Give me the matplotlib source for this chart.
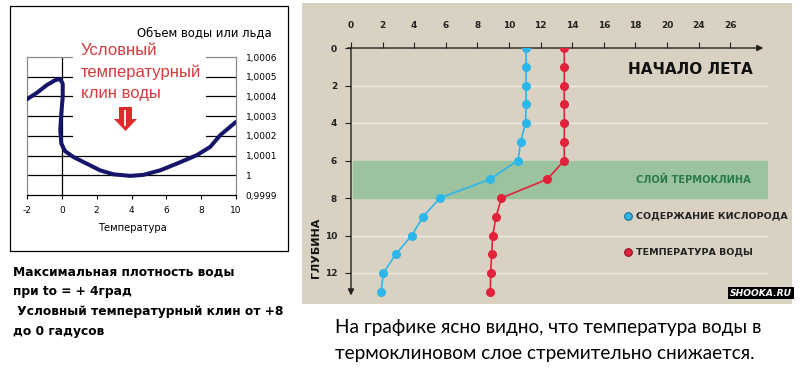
import matplotlib
matplotlib.use('Agg')
import matplotlib.pyplot as plt
from matplotlib.patches import Rectangle, Polygon
from matplotlib.lines import Line2D

W, H = 804, 388

# left chart: volume of water vs temperature (hand-drawn curve)
temp = [-2.0, -1.44, -0.87, -0.39, -0.10, 0.05, 0.05, -0.03, -0.09, -0.03, 0.18, 0.66,
        1.43, 2.2, 2.96, 3.92, 4.68, 5.64, 6.6, 7.75, 8.52, 9.09, 10.0]
volume = [1.000386, 1.000418, 1.000457, 1.000482, 1.000489, 1.000465, 1.000397, 1.000313,
          1.000228, 1.000161, 1.000123, 1.000093, 1.000059, 1.000025, 1.000005, 0.999997,
          1.000002, 1.000025, 1.000059, 1.000102, 1.000144, 1.000203, 1.000271]
vol_ticks = [0.9999, 1.0, 1.0001, 1.0002, 1.0003, 1.0004, 1.0005, 1.0006]
vol_labels = ['0,9999', '1', '1,0001', '1,0002', '1,0003', '1,0004', '1,0005', '1,0006']
temp_ticks = [-2, 0, 2, 4, 6, 8, 10]

# right chart: profiles at start of summer
depth = [0, 1, 2, 3, 4, 5, 6, 7, 8, 9, 10, 11, 12, 13]
oxygen = [11.08, 11.08, 11.08, 11.08, 11.05, 10.74, 10.57, 8.80, 5.63, 4.56, 3.84, 2.83, 2.05, 1.90]
water_temp = [13.5, 13.5, 13.5, 13.5, 13.5, 13.5, 13.5, 12.42, 9.52, 9.18, 8.97, 8.90, 8.84, 8.82]
x_tick_pos = [0, 2, 4, 6, 8, 10, 12, 14, 16, 18, 20, 22, 24]
x_tick_labels = ['0', '2', '4', '6', '8', '10', '12', '14', '16', '18', '20', '24', '26']
depth_ticks = [0, 2, 4, 6, 8, 10, 12]


def fx(x):
    return x / W


def fy(y):
    return 1 - y / H


fig = plt.figure(figsize=(W / 100, H / 100), dpi=100)
fig.patch.set_facecolor('white')

# background / decoration layer in pixel coordinates
bg = fig.add_axes([0, 0, 1, 1])
bg.set_xlim(0, W)
bg.set_ylim(H, 0)
bg.axis('off')
bg.add_patch(Rectangle((302, 3), 490, 301, facecolor='#d9d2c3', edgecolor='none'))
bg.add_patch(Rectangle((10, 6), 278, 245, facecolor='none', edgecolor='black', lw=0.9))

# ---------------- left chart ----------------
ax1 = fig.add_axes([fx(27), fy(195), 209 / W, 138 / H])
ax1.set_xlim(-2, 10)
ax1.set_ylim(0.9999, 1.0006)
ax1.set_facecolor('white')
for v in vol_ticks[1:-1]:
    ax1.axhline(v, color='black', lw=0.9, zorder=1)
ax1.axvline(0, color='black', lw=0.9, zorder=1)
for s in ['left', 'top', 'right']:
    ax1.spines[s].set_color('#8a8a8a')
    ax1.spines[s].set_linewidth(0.9)
ax1.spines['bottom'].set_color('black')
ax1.spines['bottom'].set_linewidth(0.9)
ax1.set_xticks(temp_ticks)
ax1.set_xticklabels([str(t) for t in temp_ticks], fontsize=6.5)
ax1.tick_params(axis='x', length=3, width=0.8, pad=5)
ax1.yaxis.tick_right()
ax1.set_yticks(vol_ticks)
ax1.set_yticklabels(vol_labels, fontsize=6.5)
ax1.tick_params(axis='y', length=0, pad=7)

# white box behind the red caption
ax1.add_patch(Rectangle((0.64, 1.000152), 7.65, 0.00056, facecolor='white',
                        edgecolor='none', zorder=3, clip_on=False))
ax1.plot(temp, volume, color='#15156a', lw=2.9, solid_capstyle='round',
         solid_joinstyle='round', zorder=4)

fig.text(fx(204), fy(33), 'Объем воды или льда', fontsize=8.4, ha='center', va='center')
fig.text(fx(132), fy(228), 'Температура', fontsize=7.2, ha='center', va='center')
fig.text(fx(81), fy(72), 'Условный\nтемпературный\nклин воды', fontsize=12,
         family='Liberation Sans', color='#d63a3c', ha='left', va='center', linespacing=1.55)

# red block arrow (figure level so it sits above the left chart)
arrow_px = [(119, 107), (132, 107), (132, 119), (137, 119), (125.5, 131), (114, 119), (119, 119)]
fig.add_artist(Polygon([(fx(x), fy(y)) for x, y in arrow_px], closed=True,
                       transform=fig.transFigure, facecolor='#e02a2a', edgecolor='none',
                       zorder=5))
fig.add_artist(Line2D([fx(125.5), fx(125.5)], [fy(111), fy(125)], transform=fig.transFigure,
                      color='white', lw=1.3, zorder=6))

# bottom-left caption
left_lines = ['Максимальная плотность воды', 'при to = + 4град',
              ' Условный температурный клин от +8', 'до 0 гадусов']
for i, line in enumerate(left_lines):
    fig.text(fx(13), fy(272 + i * 20), line, fontsize=8.8, fontweight='bold',
             ha='left', va='center')

# ---------------- right chart ----------------
ax2 = fig.add_axes([fx(351), fy(298), (768 - 351) / W, 250 / H])
ax2.set_facecolor('none')
ax2.set_xlim(0, 417 / 15.8)
ax2.set_ylim(250 / 18.75, 0)
for s in ax2.spines.values():
    s.set_visible(False)

ax2.axhspan(6, 8, xmin=0.005, xmax=1, color='#9bc3a0', zorder=0)
for d in [2, 4, 10, 12]:
    ax2.axhline(d, color='white', alpha=0.55, lw=1, zorder=0.5)

ax2.annotate('', xy=(26.1, 0), xytext=(-0.2, 0), annotation_clip=False,
             arrowprops=dict(arrowstyle='-|>', color='#222222', lw=1, mutation_scale=9,
                             shrinkA=0, shrinkB=0))
ax2.annotate('', xy=(0, 13.2), xytext=(0, 0), annotation_clip=False,
             arrowprops=dict(arrowstyle='-|>', color='#222222', lw=1, mutation_scale=9,
                             shrinkA=0, shrinkB=0))

ax2.plot(oxygen, depth, color='#2db6e9', marker='o', ms=5.5, lw=1.2, zorder=3)
ax2.plot(water_temp, depth, color='#e3213b', marker='o', ms=5.5, lw=1.2, zorder=3)

ax2.xaxis.set_ticks_position('top')
ax2.set_xticks(x_tick_pos)
ax2.set_xticklabels(x_tick_labels, fontsize=6.5, fontweight='bold', color='#222222')
ax2.tick_params(axis='x', top=True, bottom=False, labeltop=True, labelbottom=False,
                length=4, width=0.8, pad=9, color='#222222')
ax2.set_yticks(depth_ticks)
ax2.set_yticklabels([str(d) for d in depth_ticks], fontsize=6.5, fontweight='bold',
                    color='#222222')
ax2.tick_params(axis='y', length=4, width=0.8, pad=6, color='#222222')

fig.text(fx(690), fy(70), 'НАЧАЛО ЛЕТА', fontsize=11, fontweight='heavy',
         ha='center', va='center', color='#111111')
fig.text(fx(693), fy(180), 'СЛОЙ ТЕРМОКЛИНА', fontsize=7.1, fontweight='bold',
         ha='center', va='center', color='#2a7b48')
fig.text(fx(316), fy(248), 'ГЛУБИНА', fontsize=8, fontweight='bold', rotation=90,
         ha='center', va='center', color='#111111')

bg.plot([628], [216], marker='o', ms=5.5, color='#2db6e9', mec='#1a6f96', mew=0.8)
bg.plot([628], [252], marker='o', ms=5.5, color='#e3213b', mec='#8a1020', mew=0.8)
fig.text(fx(636), fy(216), 'СОДЕРЖАНИЕ КИСЛОРОДА', fontsize=6.8, fontweight='bold',
         ha='left', va='center', color='#222222')
fig.text(fx(636), fy(252), 'ТЕМПЕРАТУРА ВОДЫ', fontsize=6.8, fontweight='bold',
         ha='left', va='center', color='#222222')

fig.text(fx(761), fy(293), 'SHOOKA.RU', fontsize=6.6, fontweight='bold', style='italic',
         color='white', ha='center', va='center',
         bbox=dict(boxstyle='square,pad=0.2', facecolor='black', edgecolor='none'))

# bottom-right caption
fig.text(fx(335), fy(327), 'На графике ясно видно, что температура воды в', fontsize=13.7,
         family='Lato', ha='left', va='center')
fig.text(fx(335), fy(354), 'термоклиновом слое стремительно снижается.', fontsize=13.7,
         family='Lato', ha='left', va='center')

fig.savefig('out.png', dpi=100, facecolor='white')
